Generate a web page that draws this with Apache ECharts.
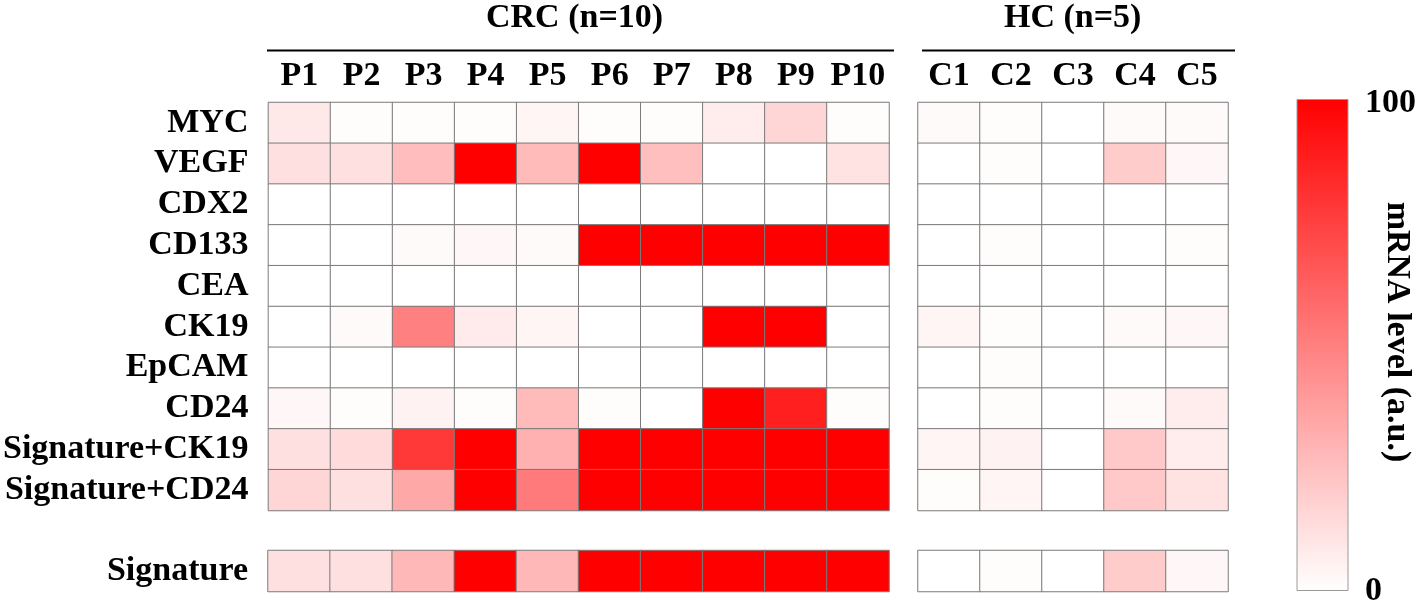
<!DOCTYPE html>
<html>
<head>
<meta charset="utf-8">
<script src="https://cdn.jsdelivr.net/npm/echarts@6/dist/echarts.min.js"></script>
<style>
  html, body { margin: 0; padding: 0; background: #fff; }
  #chart { width: 1418px; height: 608px; }
</style>
</head>
<body>
<div id="chart"></div>
<script>
// categories
const patients = ['P1', 'P2', 'P3', 'P4', 'P5', 'P6', 'P7', 'P8', 'P9', 'P10']
const controls = ['C1', 'C2', 'C3', 'C4', 'C5']
const markers = ['MYC', 'VEGF', 'CDX2', 'CD133', 'CEA', 'CK19', 'EpCAM', 'CD24', 'Signature+CK19', 'Signature+CD24']
const signatureRow = ['Signature']

// mRNA level (a.u.), one array per marker: CRC P1..P10
const crcMYC = [9, 1, 1, 1, 4, 1, 1, 7, 16, 1]
const crcVEGF = [12, 12, 26, 100, 27, 100, 25, 0, 0, 11]
const crcCDX2 = [0, 0, 0, 0, 0, 0, 0, 0, 0, 0]
const crcCD133 = [0, 0, 2, 3, 2, 100, 100, 100, 100, 100]
const crcCEA = [0, 0, 0, 0, 0, 0, 0, 0, 0, 0]
const crcCK19 = [0, 2, 50, 8, 4, 0, 0, 100, 100, 0]
const crcEpCAM = [0, 0, 0, 0, 0, 0, 0, 0, 0, 0]
const crcCD24 = [3, 1, 5, 1, 27, 1, 0, 100, 88, 1]
const crcSigCK19 = [12, 14, 78, 100, 31, 100, 100, 100, 100, 100]
const crcSigCD24 = [16, 12, 34, 100, 52, 100, 100, 100, 100, 100]
const crcSignature = [12, 12, 28, 100, 28, 100, 100, 100, 100, 100]

// HC C1..C5
const hcMYC = [2, 1, 0, 2, 2]
const hcVEGF = [0, 1, 0, 20, 3]
const hcCDX2 = [0, 0, 0, 0, 0]
const hcCD133 = [0, 1, 0, 0, 1]
const hcCEA = [0, 0, 0, 0, 0]
const hcCK19 = [4, 1, 0, 2, 3]
const hcEpCAM = [0, 1, 0, 0, 0]
const hcCD24 = [0, 1, 0, 2, 7]
const hcSigCK19 = [4, 5, 0, 21, 7]
const hcSigCD24 = [1, 4, 0, 21, 11]
const hcSignature = [0, 1, 0, 20, 3]

const colorTicks = ['0', '100']

const crcRows = [crcMYC, crcVEGF, crcCDX2, crcCD133, crcCEA, crcCK19, crcEpCAM, crcCD24, crcSigCK19, crcSigCD24]
const hcRows = [hcMYC, hcVEGF, hcCDX2, hcCD133, hcCEA, hcCK19, hcEpCAM, hcCD24, hcSigCK19, hcSigCD24]

function toCells(rows) {
  const out = []
  rows.forEach((row, y) => {
    row.forEach((v, x) => out.push([x, y, v]))
  })
  return out
}

const FONT = '"Liberation Serif", "DejaVu Serif", serif'
const labelStyle = { color: '#000', fontFamily: FONT, fontWeight: 'bold', fontSize: 34 }

const cellStyle = { borderColor: '#7a7a7a', borderWidth: 1 }

function catX(data, gridIndex, show) {
  return {
    type: 'category', gridIndex, data, position: 'top',
    axisLine: { show: false }, axisTick: { show: false }, splitLine: { show: false },
    axisLabel: Object.assign({ show, margin: 9, interval: 0, hideOverlap: false }, labelStyle)
  }
}
function catY(data, gridIndex, show) {
  return {
    type: 'category', gridIndex, data, inverse: true,
    axisLine: { show: false }, axisTick: { show: false }, splitLine: { show: false },
    axisLabel: Object.assign({ show, margin: 20, interval: 0, hideOverlap: false }, labelStyle)
  }
}

const chart = echarts.init(document.getElementById('chart'))
chart.setOption({
  backgroundColor: '#fff',
  animation: false,
  grid: [
    { left: 268, top: 102.5, width: 621, height: 408, containLabel: false },
    { left: 918, top: 102.5, width: 310, height: 408, containLabel: false },
    { left: 268, top: 550.5, width: 621, height: 41, containLabel: false },
    { left: 918, top: 550.5, width: 310, height: 41, containLabel: false }
  ],
  xAxis: [
    catX(patients, 0, true),
    catX(controls, 1, true),
    catX(patients, 2, false),
    catX(controls, 3, false)
  ],
  yAxis: [
    catY(markers, 0, true),
    catY(markers, 1, false),
    catY(signatureRow, 2, true),
    catY(signatureRow, 3, false)
  ],
  visualMap: {
    show: false,
    min: 0,
    max: 100,
    dimension: 2,
    inRange: { color: ['#ffffff', '#ff0000'] }
  },
  series: [
    { type: 'heatmap', xAxisIndex: 0, yAxisIndex: 0, data: toCells(crcRows), itemStyle: cellStyle },
    { type: 'heatmap', xAxisIndex: 1, yAxisIndex: 1, data: toCells(hcRows), itemStyle: cellStyle },
    { type: 'heatmap', xAxisIndex: 2, yAxisIndex: 2, data: toCells([crcSignature]), itemStyle: cellStyle },
    { type: 'heatmap', xAxisIndex: 3, yAxisIndex: 3, data: toCells([hcSignature]), itemStyle: cellStyle }
  ],
  graphic: [
    // group headers
    { type: 'text', left: 486, top: 1, style: { text: 'CRC (n=10)', fill: '#000', font: 'bold 34px ' + FONT } },
    { type: 'text', left: 1004, top: 1, style: { text: 'HC (n=5)', fill: '#000', font: 'bold 34px ' + FONT } },
    { type: 'line', shape: { x1: 267, y1: 50.5, x2: 894, y2: 50.5 }, style: { stroke: '#000', lineWidth: 2 } },
    { type: 'line', shape: { x1: 922, y1: 50.5, x2: 1235, y2: 50.5 }, style: { stroke: '#000', lineWidth: 2 } },
    // colour bar
    {
      type: 'rect',
      shape: { x: 1297, y: 99.5, width: 51, height: 491 },
      style: {
        fill: new echarts.graphic.LinearGradient(0, 0, 0, 1, [
          { offset: 0, color: '#ff0000' },
          { offset: 1, color: '#ffffff' }
        ]),
        stroke: '#9a9a9a',
        lineWidth: 1
      }
    },
    { type: 'text', left: 1365, top: 86, style: { text: colorTicks[1], fill: '#000', font: 'bold 34px ' + FONT } },
    { type: 'text', left: 1365, top: 574, style: { text: colorTicks[0], fill: '#000', font: 'bold 34px ' + FONT } },
    {
      type: 'text', x: 1397, y: 332, rotation: -Math.PI / 2,
      style: { text: 'mRNA level (a.u.)', fill: '#000', font: 'bold 34px ' + FONT, align: 'center', verticalAlign: 'middle' }
    }
  ]
})
</script>
</body>
</html>
